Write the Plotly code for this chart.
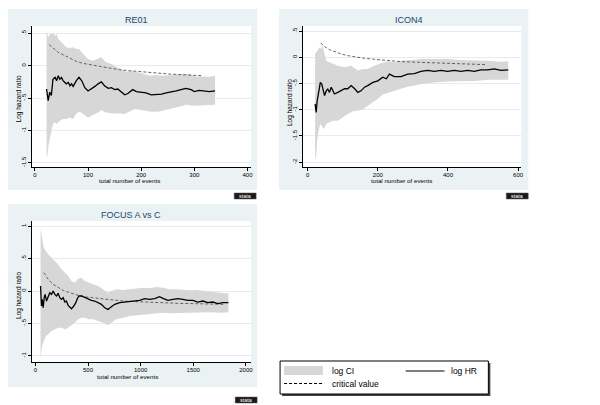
import plotly.graph_objects as go

# ---------------- data ----------------
# RE01
re01_hr_events = [22,25,28,31,34,38,41,44,47,50,53,56,59,63,66,69,72,78,83,88,94,100,106,113,119,125,131,138,144,150,
                  156,163,169,175,184,191,200,209,219,228,238,247,256,266,275,284,294,300,309,319,328,339]
re01_hr = [-0.36,-0.54,-0.41,-0.46,-0.21,-0.18,-0.23,-0.155,-0.21,-0.18,-0.23,-0.26,-0.28,-0.26,-0.31,-0.28,-0.32,-0.23,-0.18,-0.23,
           -0.34,-0.39,-0.36,-0.32,-0.28,-0.25,-0.31,-0.35,-0.34,-0.37,-0.36,-0.41,-0.45,-0.43,-0.37,-0.40,-0.41,-0.42,-0.45,-0.45,
           -0.44,-0.42,-0.41,-0.39,-0.37,-0.35,-0.37,-0.40,-0.38,-0.39,-0.40,-0.39]
re01_up_events = [22,25,28,31,34,38,41,44,47,53,59,66,72,78,83,91,100,109,119,125,134,144,153,163,172,181,191,203,216,228,
                  241,259,278,291,303,316,328,339]
re01_upper = [0.54,0.44,0.49,0.49,0.515,0.46,0.49,0.41,0.39,0.335,0.284,0.273,0.284,0.258,0.258,0.18,0.103,0.077,0.113,0.129,
              0.052,0.026,-0.015,-0.052,-0.093,-0.077,-0.093,-0.119,-0.155,-0.144,-0.155,-0.139,-0.129,-0.129,-0.165,-0.165,-0.17,-0.155]
re01_lo_events = [22,24,26,28,31,34,38,41,47,53,59,66,72,78,84,91,100,109,119,125,134,147,159,169,178,188,203,219,234,253,
                  272,284,297,309,328,339]
re01_lower = [-1.42,-1.37,-1.21,-1.11,-1.005,-0.90,-0.876,-0.90,-0.85,-0.825,-0.825,-0.80,-0.825,-0.737,-0.706,-0.747,-0.80,-0.758,-0.722,-0.686,
              -0.722,-0.737,-0.737,-0.747,-0.706,-0.67,-0.686,-0.711,-0.706,-0.67,-0.634,-0.603,-0.619,-0.608,-0.608,-0.603]
re01_cv_events = [27,34,44,53,66,78,91,103,122,141,159,178,203,228,253,278,303,316]
re01_cv = [0.325,0.273,0.206,0.17,0.113,0.067,0.036,0.015,-0.01,-0.036,-0.062,-0.077,-0.098,-0.113,-0.129,-0.139,-0.149,-0.155]

# ICON4
icon4_hr_events = [21,24,27,31,36,40,44,48,53,57,62,67,72,76,86,95,105,114,124,134,143,152,162,171,186,200,214,224,233,247,
                   266,285,304,323,342,361,380,399,418,437,456,475,494,513,532,551,572]
icon4_hr = [-0.89,-1.05,-0.83,-0.64,-0.48,-0.51,-0.64,-0.73,-0.64,-0.60,-0.67,-0.57,-0.64,-0.70,-0.67,-0.64,-0.60,-0.60,-0.54,-0.60,
            -0.67,-0.64,-0.57,-0.54,-0.48,-0.45,-0.38,-0.41,-0.32,-0.37,-0.37,-0.32,-0.31,-0.27,-0.25,-0.27,-0.25,-0.27,-0.25,-0.27,
            -0.25,-0.27,-0.24,-0.24,-0.22,-0.25,-0.24]
icon4_up_events = [21,27,34,38,43,48,53,62,72,86,105,124,143,157,171,190,209,228,247,266,295,323,361,399,437,475,513,551,572]
icon4_upper = [0.064,0.127,0.191,0.159,0.223,0.064,-0.064,-0.095,-0.127,-0.159,-0.191,-0.159,-0.254,-0.223,-0.223,-0.159,-0.115,-0.076,-0.095,-0.064,
               -0.051,-0.032,-0.032,-0.032,-0.051,-0.051,-0.064,-0.083,-0.076]
icon4_lo_events = [21,24,27,31,36,40,46,53,62,72,86,100,114,129,143,157,171,186,200,214,228,247,266,285,304,333,361,399,437,475,513,551,572]
icon4_lower = [-1.94,-1.88,-1.59,-1.40,-1.27,-1.30,-1.37,-1.27,-1.24,-1.21,-1.21,-1.15,-1.08,-1.03,-1.02,-0.99,-0.92,-0.86,-0.79,-0.71,
               -0.67,-0.64,-0.60,-0.56,-0.54,-0.50,-0.48,-0.46,-0.45,-0.45,-0.43,-0.43,-0.43]
icon4_cv_events = [37,48,62,76,95,114,138,162,190,228,266,314,361,409,456,507]
icon4_cv = [0.273,0.204,0.146,0.108,0.064,0.032,0.0,-0.019,-0.038,-0.064,-0.083,-0.095,-0.108,-0.115,-0.127,-0.14]

# FOCUS A vs C
focus_hr_events = [49,52,58,65,74,84,93,106,122,137,153,169,185,201,216,232,248,264,280,295,311,327,343,365,384,400,415,438,469,501,
                   532,564,596,627,659,690,722,754,801,848,896,943,991,1038,1085,1133,1180,1212,1259,1307,1354,1401,1449,1496,1543,1591,
                   1638,1685,1733,1781,1834]
focus_hr = [0.077,-0.103,-0.232,-0.129,-0.258,-0.103,-0.052,-0.155,-0.077,-0.026,-0.052,0.0,-0.052,-0.077,-0.036,-0.103,-0.129,-0.103,-0.17,-0.155,
            -0.222,-0.242,-0.273,-0.232,-0.18,-0.113,-0.077,-0.077,-0.103,-0.119,-0.144,-0.155,-0.18,-0.206,-0.258,-0.284,-0.242,-0.206,-0.18,-0.17,
            -0.17,-0.155,-0.144,-0.119,-0.129,-0.119,-0.088,-0.113,-0.144,-0.129,-0.119,-0.129,-0.144,-0.144,-0.17,-0.155,-0.18,-0.17,-0.196,-0.18,-0.18]
focus_up_events = [49,58,68,81,100,122,153,185,216,248,280,311,343,374,406,438,469,501,548,596,643,690,722,769,832,896,959,1022,1085,1148,
                   1212,1275,1338,1401,1464,1528,1591,1654,1717,1781,1834]
focus_upper = [0.954,0.851,0.747,0.67,0.619,0.567,0.515,0.464,0.412,0.335,0.284,0.232,0.155,0.129,0.191,0.206,0.155,0.129,0.103,0.077,
               0.026,-0.026,0.0,0.026,0.015,0.026,0.036,0.052,0.041,0.062,0.052,0.026,0.026,0.015,0.01,0.015,0.0,-0.01,-0.02,-0.03,-0.04]
focus_lo_events = [49,58,68,81,100,122,153,185,216,248,280,311,343,374,406,438,469,501,548,596,643,690,722,769,832,896,959,1022,1085,1148,
                   1212,1275,1338,1401,1528,1654,1781,1834]
focus_lower = [-1.046,-0.902,-0.825,-0.773,-0.696,-0.67,-0.619,-0.593,-0.567,-0.567,-0.593,-0.567,-0.531,-0.49,-0.438,-0.412,-0.412,-0.438,-0.438,-0.464,
               -0.49,-0.531,-0.49,-0.438,-0.412,-0.387,-0.376,-0.361,-0.351,-0.345,-0.335,-0.345,-0.335,-0.335,-0.335,-0.33,-0.335,-0.33]
focus_cv_events = [81,122,169,216,264,327,406,485,580,706,832,959,1085,1212,1370,1528,1685,1796]
focus_cv = [0.284,0.18,0.103,0.052,0.01,-0.026,-0.067,-0.093,-0.113,-0.139,-0.155,-0.165,-0.175,-0.18,-0.191,-0.196,-0.201,-0.206]

panel_titles = ["RE01", "ICON4", "FOCUS A vs C"]
x_title = "total number of events"
y_title = "Log hazard ratio"
legend_labels = ["log CI", "log HR", "critical value"]

re01_xticks = [0, 100, 200, 300, 400]
icon4_xticks = [0, 200, 400, 600]
focus_xticks = [0, 500, 1000, 1500, 2000]
re01_yticks = [-1.5, -1, -0.5, 0, 0.5]
re01_yticktext = ["-1.5", "-1", "-.5", "0", ".5"]
icon4_yticks = [-2, -1.5, -1, -0.5, 0, 0.5]
icon4_yticktext = ["-2", "-1.5", "-1", "-.5", "0", ".5"]
focus_yticks = [-1, -0.5, 0, 0.5, 1]
focus_yticktext = ["-1", "-.5", "0", ".5", "1"]

# ---------------- style ----------------
W, H = 600, 405
FONT = "Liberation Sans, Arial, sans-serif"
BG = "#eaf2f3"
GRID = "#e3ecee"
CI = "#d7d7d7"
TITLE_C = "#1a476f"

def px(x):
    return x / W

def py(y):
    return 1 - y / H

fig = go.Figure()

panels = [
    dict(ax="", hr_x=re01_hr_events, hr=re01_hr, ux=re01_up_events, up=re01_upper, lx=re01_lo_events, lo=re01_lower,
         cx=re01_cv_events, cv=re01_cv),
    dict(ax="2", hr_x=icon4_hr_events, hr=icon4_hr, ux=icon4_up_events, up=icon4_upper, lx=icon4_lo_events, lo=icon4_lower,
         cx=icon4_cv_events, cv=icon4_cv),
    dict(ax="3", hr_x=focus_hr_events, hr=focus_hr, ux=focus_up_events, up=focus_upper, lx=focus_lo_events, lo=focus_lower,
         cx=focus_cv_events, cv=focus_cv),
]

for p in panels:
    xa, ya = "x" + p["ax"], "y" + p["ax"]
    fig.add_trace(go.Scatter(
        x=list(p["ux"]) + list(p["lx"])[::-1],
        y=list(p["up"]) + list(p["lo"])[::-1],
        fill="toself", fillcolor=CI, line=dict(width=0), mode="lines",
        xaxis=xa, yaxis=ya, showlegend=False, hoverinfo="skip"))
    fig.add_trace(go.Scatter(
        x=p["cx"], y=p["cv"], mode="lines",
        line=dict(color="#555555", width=0.9, dash="3px,2px"),
        xaxis=xa, yaxis=ya, showlegend=False))
    fig.add_trace(go.Scatter(
        x=p["hr_x"], y=p["hr"], mode="lines",
        line=dict(color="black", width=1.3),
        xaxis=xa, yaxis=ya, showlegend=False))

# plot areas (pixels): left, right, top, bottom
areas = [(32, 252, 26, 167), (304, 523, 26, 167), (32, 252, 221, 362)]
xranges = [[-5.6, 406.9], [-13.5, 609], [-33, 2050]]
yranges = [[-1.566, 0.614], [-2.093, 0.597], [-1.097, 1.082]]
xticks = [re01_xticks, icon4_xticks, focus_xticks]
yticks = [(re01_yticks, re01_yticktext), (icon4_yticks, icon4_yticktext), (focus_yticks, focus_yticktext)]

layout = dict(
    width=W, height=H, margin=dict(l=0, r=0, t=0, b=0),
    paper_bgcolor="white", plot_bgcolor="rgba(0,0,0,0)",
    font=dict(family=FONT, color="black", size=6),
    showlegend=False,
)
for i, (l, r, t, b) in enumerate(areas):
    sfx = "" if i == 0 else str(i + 1)
    layout["xaxis" + sfx] = dict(
        domain=[px(l), px(r)], range=xranges[i], anchor="y" + sfx,
        tickvals=xticks[i], ticks="outside", ticklen=3, tickcolor="black", tickwidth=1,
        ticklabelstandoff=-1,
        showline=True, linecolor="black", linewidth=1, showgrid=False, zeroline=False,
        tickfont=dict(size=6, color="black", family=FONT), fixedrange=True)
    layout["yaxis" + sfx] = dict(
        domain=[py(b), py(t)], range=yranges[i], anchor="x" + sfx,
        tickvals=yticks[i][0], ticktext=yticks[i][1], tickangle=-90,
        ticks="outside", ticklen=3, tickcolor="black", tickwidth=1,
        showline=True, linecolor="black", linewidth=1,
        showgrid=True, gridcolor=GRID, gridwidth=1, zeroline=False,
        tickfont=dict(size=6, color="black", family=FONT), fixedrange=True)

shapes = []
# graph region boxes
boxes = [(8, 258, 9, 190), (280, 530, 9, 190), (8, 258, 204, 387)]
for (l, r, t, b) in boxes:
    shapes.append(dict(type="rect", xref="paper", yref="paper", x0=px(l), x1=px(r), y0=py(b), y1=py(t),
                       fillcolor=BG, line=dict(width=0), layer="below"))
for (l, r, t, b) in areas:
    shapes.append(dict(type="rect", xref="paper", yref="paper", x0=px(l), x1=px(r), y0=py(b), y1=py(t),
                       fillcolor="white", line=dict(width=0), layer="below"))

# stata logos
logos = [(235, 257, 193, 199), (508, 530, 193, 199), (236, 258, 397, 403)]
annotations = []
for (l, r, t, b) in logos:
    shapes.append(dict(type="rect", xref="paper", yref="paper", x0=px(l), x1=px(r), y0=py(b), y1=py(t),
                       fillcolor="#1a1a1a", line=dict(color="#555555", width=0.5)))
    annotations.append(dict(x=px((l + r) / 2), y=py((t + b) / 2), xref="paper", yref="paper", text="stata",
                            showarrow=False, font=dict(size=5.5, color="white", family=FONT),
                            xanchor="center", yanchor="middle"))

# titles
title_pos = [(137, 20), (410, 20), (131, 215)]
for (x, y), txt in zip(title_pos, panel_titles):
    annotations.append(dict(x=px(x), y=py(y), xref="paper", yref="paper", text=txt, showarrow=False,
                            font=dict(size=9, color=TITLE_C, family=FONT), xanchor="center", yanchor="middle"))
xt_pos = [(130, 181), (403, 181), (128, 376)]
for (x, y) in xt_pos:
    annotations.append(dict(x=px(x), y=py(y), xref="paper", yref="paper", text=x_title, showarrow=False,
                            font=dict(size=6.2, color="black", family=FONT), xanchor="center", yanchor="middle"))
yt_pos = [(19.5, 99), (291, 103), (19, 295)]
for (x, y) in yt_pos:
    annotations.append(dict(x=px(x), y=py(y), xref="paper", yref="paper", text=y_title, showarrow=False,
                            textangle=-90, font=dict(size=6.5, color="black", family=FONT),
                            xanchor="center", yanchor="middle"))

# legend (manual)
shapes.append(dict(type="rect", xref="paper", yref="paper", x0=px(283), x1=px(492), y0=py(396), y1=py(363),
                   fillcolor="#444444", line=dict(width=0)))
shapes.append(dict(type="rect", xref="paper", yref="paper", x0=px(281), x1=px(490), y0=py(394), y1=py(361),
                   fillcolor="white", line=dict(color="black", width=1)))
shapes.append(dict(type="rect", xref="paper", yref="paper", x0=px(285), x1=px(324), y0=py(375), y1=py(366),
                   fillcolor=CI, line=dict(width=0)))
shapes.append(dict(type="line", xref="paper", yref="paper", x0=px(407), x1=px(446), y0=py(371), y1=py(371),
                   line=dict(color="black", width=1)))
shapes.append(dict(type="line", xref="paper", yref="paper", x0=px(285), x1=px(324), y0=py(383.5), y1=py(383.5),
                   line=dict(color="black", width=1, dash="3px,2px")))
leg_text = [(331, 370.5, legend_labels[0]), (450, 370.5, legend_labels[1]), (331, 384, legend_labels[2])]
for x, y, t in leg_text:
    annotations.append(dict(x=px(x), y=py(y), xref="paper", yref="paper", text=t, showarrow=False,
                            font=dict(size=8.5, color="black", family=FONT), xanchor="left", yanchor="middle"))

layout["shapes"] = shapes
layout["annotations"] = annotations
fig.update_layout(**layout)
fig.write_html("out.html", config={"displayModeBar": False},
               post_script="document.body.style.margin='0';document.body.style.overflow='hidden';")
